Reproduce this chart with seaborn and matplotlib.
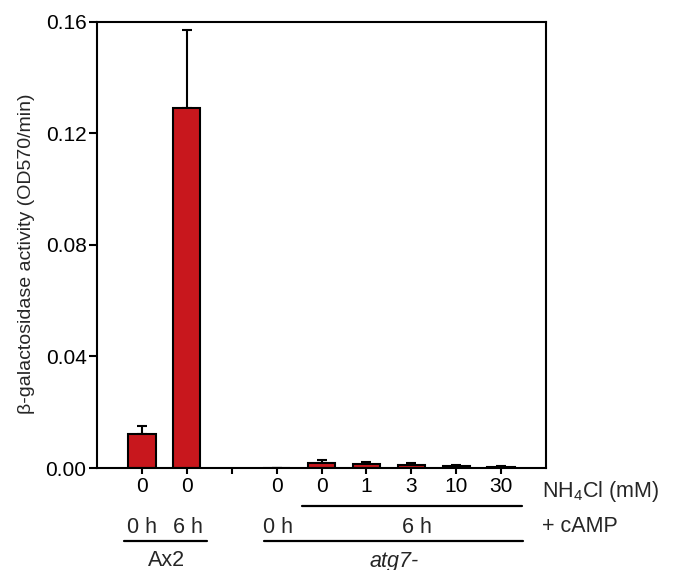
import numpy as np
import pandas as pd
import matplotlib
matplotlib.use("Agg")
import matplotlib.pyplot as plt
import seaborn as sns
from matplotlib import transforms
from matplotlib.lines import Line2D

# ---- data ----
groups = ["Ax2 0h", "Ax2 6h", "gap", "atg7 0h", "atg7 6h 0",
          "atg7 6h 1", "atg7 6h 3", "atg7 6h 10", "atg7 6h 30"]
nh4cl_labels = ["0", "0", "", "0", "0", "1", "3", "10", "30"]
activity = [0.0122, 0.129, np.nan, 0.0, 0.0019, 0.0013, 0.0011, 0.0006, 0.0004]
sem = [0.0028, 0.028, np.nan, 0.0, 0.0010, 0.0010, 0.0006, 0.0004, 0.0003]
camp_labels = ["0 h", "6 h", "0 h", "6 h"]
strain_labels = ["Ax2", "atg7-"]
yticks = [0.0, 0.04, 0.08, 0.12, 0.16]

df = pd.DataFrame({"group": groups, "activity": activity, "sem": sem}).dropna()

sns.set_style("ticks")
plt.rcParams["font.family"] = ["Liberation Sans", "DejaVu Sans"]
plt.rcParams["mathtext.fontset"] = "custom"
plt.rcParams["mathtext.rm"] = "Liberation Sans"

W, H = 676, 570
fig = plt.figure(figsize=(W / 100, H / 100), dpi=100)
ax = fig.add_axes([97 / W, 1 - 468 / H, 449 / W, 446.3 / H])

red = "#c8171d"
sns.barplot(data=df, x="group", y="activity", order=groups, color=red,
            saturation=1, width=0.61, edgecolor="black", linewidth=1.5,
            errorbar=None, ax=ax)
xpos = np.arange(len(groups))
ax.errorbar(xpos, activity, yerr=[np.zeros(len(groups)), sem], fmt="none",
            ecolor="black", elinewidth=1.5, capsize=3.5, capthick=1.5, zorder=0.5)

ax.set_xlim(-1, 9)
ax.set_ylim(0, 0.16)
ax.set_yticks(yticks)
ax.set_yticklabels([f"{v:.2f}" for v in yticks])
ax.set_xticks(xpos)
ax.set_xticklabels(nh4cl_labels)
ax.set_xlabel("")
ax.set_ylabel("")
for s in ax.spines.values():
    s.set_visible(True)
    s.set_linewidth(1.5)
    s.set_color("black")
ax.tick_params(axis="y", direction="out", length=5.5, width=1.5, pad=2,
               labelsize=15, colors="black")
ax.tick_params(axis="x", direction="out", length=4.3, width=1.5, pad=2.5,
               labelsize=15, colors="black")

fig.text(27 / W, 1 - 254 / H, "β-galactosidase activity (OD570/min)",
         rotation=90, ha="center", va="center", fontsize=14)

# annotation rows below the axis
bt = transforms.blended_transform_factory(ax.transData, fig.transFigure)
def fy(py):
    return 1 - py / H

fig.text(541.7 / W, fy(496.7), "NH$_4$Cl (mM)", ha="left", va="baseline", fontsize=15.5)
fig.text(541.7 / W, fy(531.7), "+ cAMP", ha="left", va="baseline", fontsize=15.5)

for xp, lab in zip([0.0, 1.02, 3.04, 6.12], camp_labels):
    fig.text(xp, fy(533), lab, transform=bt, ha="center", va="baseline", fontsize=15.5)

fig.text(0.55, fy(566.5), strain_labels[0], transform=bt, ha="center",
         va="baseline", fontsize=15.5)
fig.text(5.61, fy(566.5), strain_labels[1], transform=bt, ha="center",
         va="baseline", fontsize=15.5, style="italic")

for x0, x1, py in [(3.557, 8.457, 505.7), (-0.40, 1.448, 540.7), (2.717, 8.48, 540.7)]:
    fig.add_artist(Line2D([x0, x1], [fy(py), fy(py)], transform=bt,
                          color="black", linewidth=1.6, clip_on=False))

fig.savefig("out.png", dpi=100)
